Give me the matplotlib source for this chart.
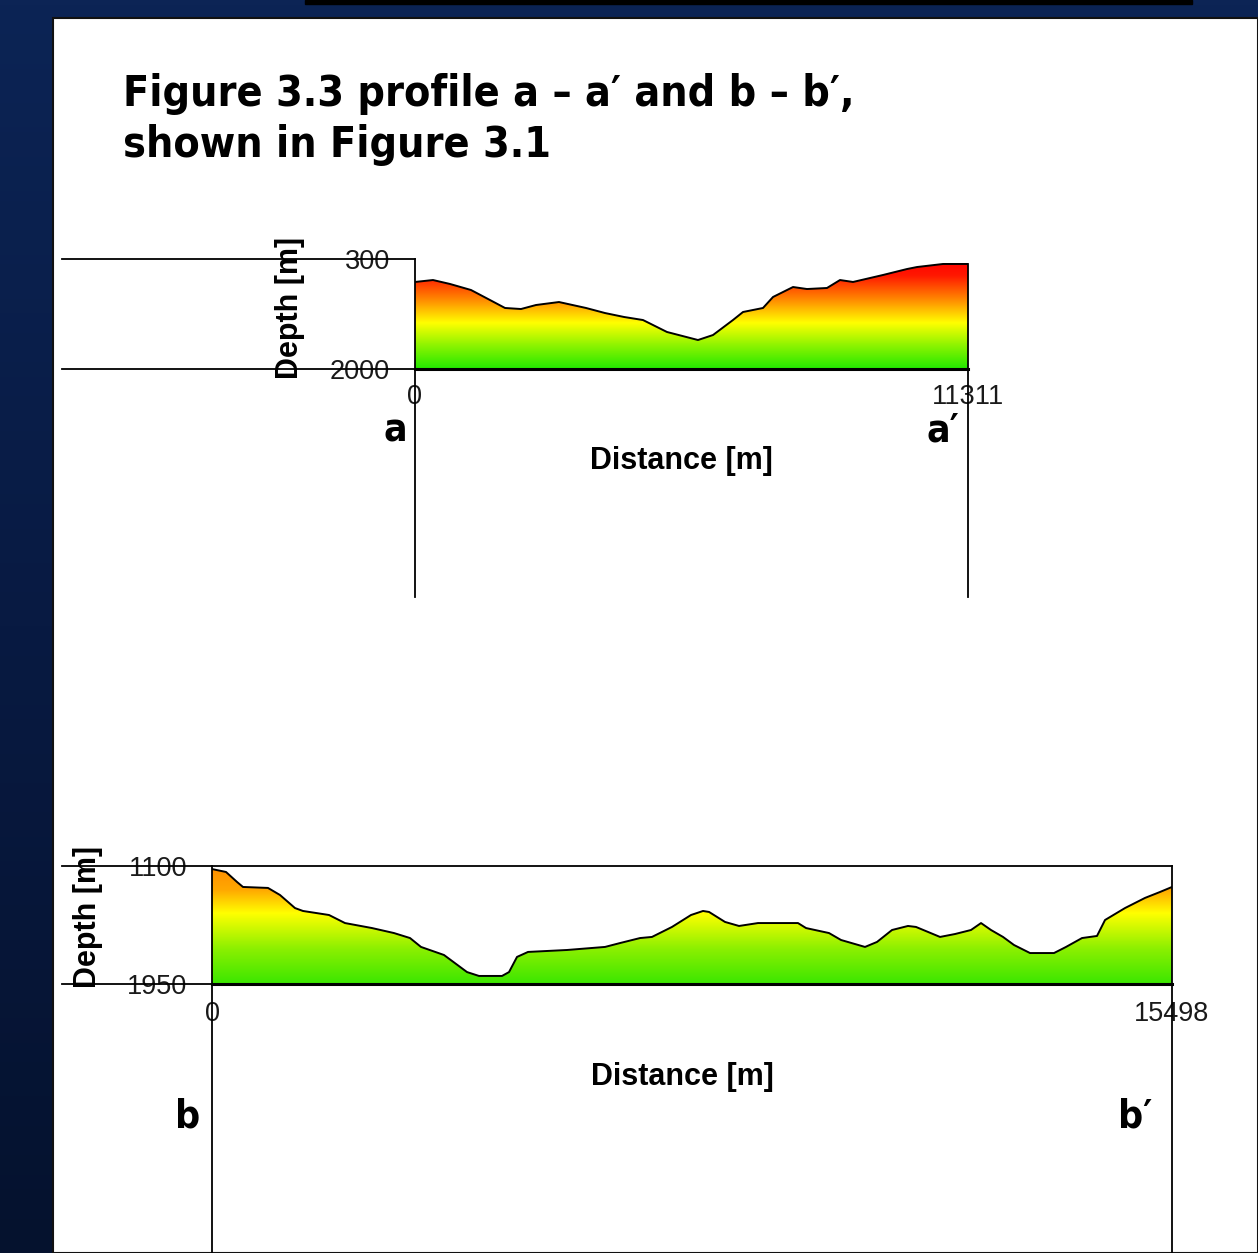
import matplotlib
matplotlib.use("Agg")
import matplotlib.pyplot as plt
import numpy as np
from matplotlib.colors import LinearSegmentedColormap
from matplotlib.patches import Rectangle

# profile a - a'
top_dist = [0, 368, 716, 1145, 1534, 1841, 2168, 2475, 2945, 3498, 3886, 4275, 4663, 5154, 5788,
            6095, 6504, 6709, 7118, 7323, 7732, 8018, 8427, 8693, 8959, 9573, 10063, 10268, 10800, 11311]
top_depth = [655, 625, 686, 779, 934, 1057, 1073, 1011, 965, 1057, 1135, 1196, 1243, 1428, 1552,
             1475, 1243, 1119, 1057, 887, 733, 764, 748, 625, 655, 547, 455, 424, 377, 377]
top_xticks = [0, 11311]
top_yticks = [300, 2000]

# profile b - b'
bot_dist = [0, 226, 404, 500, 904, 1098, 1340, 1469, 1889, 2147, 2583, 2938, 3197, 3374, 3745,
            4117, 4310, 4682, 4795, 4924, 5102, 5731, 6345, 6587, 6910, 7103, 7426, 7733, 7927, 8024,
            8282, 8508, 8815, 9460, 9590, 9961, 10155, 10542, 10736, 10978, 11236, 11365, 11753, 11995,
            12253, 12415, 12576, 12770, 12947, 13206, 13593, 13787, 14045, 14287, 14417, 14739, 15062,
            15305, 15498]
bot_depth = [1122, 1143, 1215, 1251, 1258, 1309, 1403, 1424, 1453, 1511, 1547, 1583, 1619, 1683, 1741,
             1864, 1892, 1892, 1864, 1755, 1719, 1705, 1683, 1655, 1619, 1611, 1539, 1453, 1424, 1431,
             1503, 1532, 1511, 1511, 1547, 1583, 1633, 1683, 1647, 1561, 1532, 1539, 1611, 1590,
             1561, 1511, 1561, 1611, 1669, 1727, 1727, 1683, 1619, 1604, 1489, 1403, 1330, 1287, 1251]
bot_xticks = [0, 15498]
bot_yticks = [1100, 1950]

title = "Figure 3.3 profile a \u2013 a\u2032 and b \u2013 b\u2032,\nshown in Figure 3.1"

W, H = 1258, 1253
plt.rcParams['font.family'] = ['DejaVu Sans']

fig = plt.figure(figsize=(W / 100, H / 100), dpi=100)


def px_axes(left, top, right, bottom, z):
    return fig.add_axes([left / W, 1 - bottom / H, (right - left) / W, (bottom - top) / H], zorder=z)


# background
bg = fig.add_axes([0, 0, 1, 1], zorder=0)
bg.axis("off")
blue = LinearSegmentedColormap.from_list("blue", ["#0c2455", "#081a42", "#05122e"])
bg.imshow(np.linspace(0, 1, 256).reshape(-1, 1), cmap=blue, extent=(0, W, H, 0), aspect="auto")
bg.add_patch(Rectangle((305, 0), 887, 4, color="black"))
bg.add_patch(Rectangle((53, 18), W - 53, H - 18, facecolor="white", edgecolor="#111111", lw=1.5))
bg.set_xlim(0, W)
bg.set_ylim(H, 0)

title_font = dict(family=["DejaVu Sans Condensed", "DejaVu Sans"], fontstretch="condensed",
                  fontweight="bold", color="black", fontsize=30.8)
line1, line2 = title.split("\n")
bg.text(123, 106, line1, va="baseline", ha="left", **title_font)
bg.text(123, 157, line2, va="baseline", ha="left", **title_font)

cmap_top = LinearSegmentedColormap.from_list(
    "top", [(0, "#22e800"), (0.22, "#90f400"), (0.42, "#ffff00"), (0.65, "#ff8000"),
            (0.85, "#ff1800"), (1, "#ff0000")])
cmap_bot = LinearSegmentedColormap.from_list(
    "bot", [(0, "#3be600"), (0.3, "#8cf000"), (0.6, "#ffff00"), (0.8, "#ffa800"), (1, "#ff8c00")])

label_font = dict(family=["Liberation Sans", "DejaVu Sans"], fontweight="bold", fontsize=22)
tick_font = dict(family=["Liberation Sans", "DejaVu Sans"], fontsize=19.5, color="#1a1a1a")


def profile(ax, dist, depth, xticks, yticks, cmap, xpad, ypad):
    xmax = xticks[-1]
    ytop, ybot = yticks
    poly = ax.fill_between(dist, depth, ybot, color="none", lw=0)
    im = ax.imshow(np.linspace(0, 1, 256).reshape(-1, 1), cmap=cmap, origin="lower",
                   extent=(0, xmax, ybot, ytop), aspect="auto")
    im.set_clip_path(poly.get_paths()[0], transform=ax.transData)
    ax.plot(dist, depth, color="black", lw=1.4)
    ax.set_xlim(0, xmax)
    ax.set_ylim(ybot, ytop)
    for s in ["top", "left", "right"]:
        ax.spines[s].set_visible(False)
    ax.spines["bottom"].set_linewidth(2.2)
    ax.set_facecolor("none")
    ax.set_xticks(xticks)
    ax.set_yticks(yticks)
    ax.set_xticklabels([str(v) for v in xticks], **tick_font)
    ax.set_yticklabels([str(v) for v in yticks], **tick_font)
    ax.tick_params(axis="x", length=0, pad=xpad)
    ax.tick_params(axis="y", length=0, pad=ypad)


ax1 = px_axes(415, 259, 968, 369, 1)
profile(ax1, top_dist, top_depth, top_xticks, top_yticks, cmap_top, 11, 18)

ax2 = px_axes(212, 866, 1172, 984, 1)
profile(ax2, bot_dist, bot_depth, bot_xticks, bot_yticks, cmap_bot, 12, 18)

# frame lines and labels on top
over = fig.add_axes([0, 0, 1, 1], zorder=3)
over.set_facecolor("none")
over.axis("off")
over.set_xlim(0, W)
over.set_ylim(H, 0)
lk = dict(color="black", lw=1.3)
over.plot([62, 415], [259, 259], **lk)
over.plot([62, 968], [369, 369], **lk)
over.plot([415, 415], [259, 597], **lk)
over.plot([968, 968], [264, 597], **lk)
over.plot([62, 1172], [866, 866], **lk)
over.plot([62, 1172], [984, 984], **lk)
over.plot([212, 212], [866, H], **lk)
over.plot([1172, 1172], [866, H], **lk)

over.text(290, 308, "Depth [m]", rotation=90, ha="center", va="center", **label_font)
over.text(681, 461, "Distance [m]", ha="center", va="center", **label_font)
over.text(88, 917, "Depth [m]", rotation=90, ha="center", va="center", **label_font)
over.text(682, 1077, "Distance [m]", ha="center", va="center", **label_font)

ab_font = dict(family=["DejaVu Sans Condensed", "DejaVu Sans"], fontstretch="condensed",
               fontweight="bold", fontsize=28, ha="center", va="center")
over.text(395, 430, "a", **ab_font)
over.text(943, 430, "a\u2032", **ab_font)
over.text(188, 1117, "b", **ab_font)
over.text(1135, 1117, "b\u2032", **ab_font)

fig.savefig("out.png", dpi=100)
